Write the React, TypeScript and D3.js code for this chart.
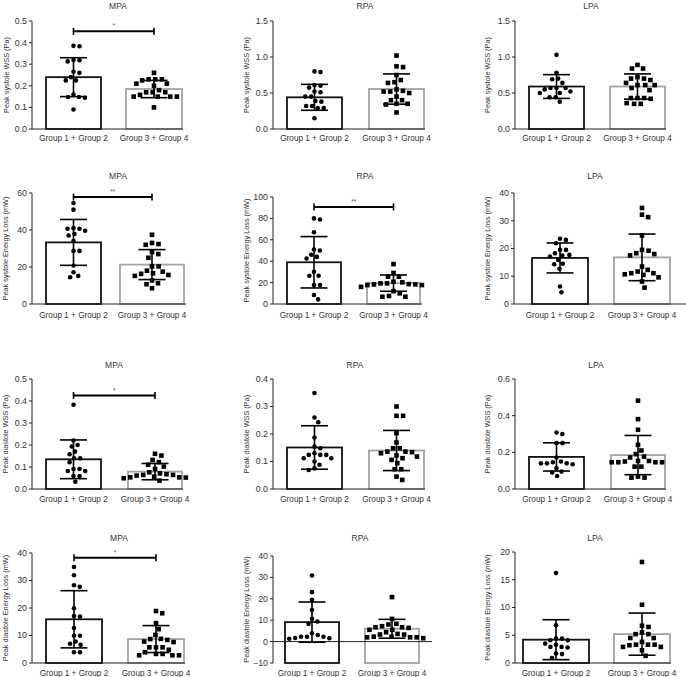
import React from 'react';
import * as d3 from 'd3';

const groupLabels = ['Group 1 + Group 2', 'Group 3 + Group 4'];
const vesselTitles = ['MPA', 'RPA', 'LPA'];
const yLabels = [
  'Peak systole WSS (Pa)',
  'Peak systole Energy Loss (mW)',
  'Peak diastole WSS (Pa)',
  'Peak diastole Energy Loss (mW)',
];

// Row 1: peak systole WSS
const sysWssMpaG1 = [0.385, 0.383, 0.32, 0.318, 0.313, 0.26, 0.265, 0.24, 0.225, 0.225, 0.16, 0.145, 0.148, 0.148, 0.09];
const sysWssMpaG2 = [0.26, 0.23, 0.23, 0.225, 0.23, 0.2, 0.21, 0.21, 0.18, 0.17, 0.17, 0.17, 0.158, 0.15, 0.15, 0.15, 0.15, 0.1];
const sysWssMpaStats = { mean: [0.24, 0.185], sd: [0.09, 0.04] };
const sysWssRpaG1 = [0.79, 0.8, 0.61, 0.575, 0.6, 0.51, 0.52, 0.45, 0.45, 0.38, 0.39, 0.32, 0.29, 0.29, 0.32, 0.15];
const sysWssRpaG2 = [1.02, 0.87, 0.86, 0.75, 0.68, 0.65, 0.64, 0.55, 0.52, 0.52, 0.53, 0.5, 0.45, 0.4, 0.4, 0.35, 0.35, 0.34, 0.23];
const sysWssRpaStats = { mean: [0.44, 0.555], sd: [0.18, 0.21] };
const sysWssLpaG1 = [1.03, 0.78, 0.69, 0.7, 0.64, 0.57, 0.57, 0.55, 0.57, 0.5, 0.52, 0.5, 0.44, 0.44, 0.38];
const sysWssLpaG2 = [0.89, 0.84, 0.84, 0.72, 0.7, 0.7, 0.68, 0.64, 0.61, 0.61, 0.61, 0.57, 0.54, 0.43, 0.43, 0.43, 0.42, 0.36, 0.35, 0.35];
const sysWssLpaStats = { mean: [0.59, 0.59], sd: [0.165, 0.175] };

// Row 2: peak systole energy loss
const sysElMpaG1 = [54.6, 51, 41, 40.7, 40.7, 39.6, 37, 37.8, 34, 28.7, 28.7, 20.8, 17.2, 14.5, 15.2];
const sysElMpaG2 = [37.4, 33, 32, 32.4, 28, 27, 25, 20.3, 20.3, 18, 16.6, 15.7, 15.2, 16.3, 17.5, 12.7, 11.2, 10.7, 8.5];
const sysElMpaStats = { mean: [33.3, 21.3], sd: [12.4, 8.1] };
const sysElRpaG1 = [79, 80, 67, 50, 51, 46, 44, 42.5, 30, 26.4, 26.4, 17.7, 17.7, 8.4, 4.3];
const sysElRpaG2 = [37.3, 29, 25.5, 25.5, 20.8, 19.3, 18.3, 18.3, 17.7, 17.7, 18.6, 19.3, 20.2, 16, 12, 10, 7.5, 6.8, 6.8];
const sysElRpaStats = { mean: [39, 19.5], sd: [24, 7.6] };
const sysElLpaG1 = [23.1, 23.5, 21.9, 19.5, 19.5, 18.3, 17.5, 17.7, 17.1, 15.9, 14.5, 14.3, 12.7, 6.3, 4.2];
const sysElLpaG2 = [34.6, 32.2, 31.3, 24.7, 19.2, 18, 19.5, 18.3, 17.5, 13.5, 11.7, 11.1, 12.3, 10.5, 10.7, 11.1, 9.6, 8.1, 5.9];
const sysElLpaStats = { mean: [16.6, 16.8], sd: [5.4, 8.4] };

// Row 3: peak diastole WSS
const diaWssMpaG1 = [0.383, 0.22, 0.2, 0.193, 0.17, 0.158, 0.14, 0.14, 0.122, 0.091, 0.091, 0.082, 0.082, 0.059, 0.059, 0.033];
const diaWssMpaG2 = [0.16, 0.152, 0.132, 0.122, 0.11, 0.102, 0.091, 0.076, 0.071, 0.064, 0.061, 0.064, 0.067, 0.053, 0.049, 0.052, 0.053, 0.056, 0.038];
const diaWssMpaStats = { mean: [0.135, 0.079], sd: [0.088, 0.037] };
const diaWssRpaG1 = [0.349, 0.26, 0.243, 0.187, 0.154, 0.148, 0.13, 0.124, 0.124, 0.124, 0.112, 0.112, 0.1, 0.088, 0.069, 0.075];
const diaWssRpaG2 = [0.3, 0.266, 0.266, 0.203, 0.169, 0.148, 0.148, 0.13, 0.136, 0.134, 0.136, 0.118, 0.122, 0.112, 0.094, 0.106, 0.072, 0.072, 0.045, 0.033];
const diaWssRpaStats = { mean: [0.151, 0.14], sd: [0.079, 0.073] };
const diaWssLpaG1 = [0.3, 0.308, 0.25, 0.25, 0.172, 0.146, 0.15, 0.14, 0.135, 0.14, 0.14, 0.113, 0.095, 0.09, 0.071];
const diaWssLpaG2 = [0.482, 0.381, 0.323, 0.241, 0.19, 0.21, 0.172, 0.177, 0.153, 0.15, 0.146, 0.146, 0.146, 0.146, 0.153, 0.122, 0.122, 0.068, 0.062, 0.062];
const diaWssLpaStats = { mean: [0.175, 0.185], sd: [0.077, 0.107] };

// Row 4: peak diastole energy loss
const diaElMpaG1 = [34.9, 31.9, 27.7, 28.3, 19.9, 16.9, 17.1, 12.7, 9.9, 9.9, 7.0, 7.8, 6.6, 3.9, 3.9];
const diaElMpaG2 = [18.9, 18.1, 14.5, 12.3, 10.2, 8.4, 7.6, 8.7, 7.8, 8.8, 5.7, 5.7, 5.7, 4.8, 3.9, 3.3, 2.8, 2.8, 2.8, 3.3];
const diaElMpaStats = { mean: [15.9, 8.7], sd: [10.4, 4.9] };
const diaElRpaG1 = [30.9, 23.1, 19.5, 14.8, 10.6, 9.4, 8.3, 3.9, 3.1, 2.3, 1.7, 1.3, 1.6, 2.3, 2.3];
const diaElRpaG2 = [20.8, 10.6, 8.3, 7.2, 6.7, 6.4, 6.7, 8.0, 4.4, 3.3, 5.5, 5.5, 3.3, 3.6, 2.0, 2.3, 2.0, 1.6, 2.0, 2.3];
const diaElRpaStats = { mean: [9.1, 6.0], sd: [9.4, 4.4] };
const diaElLpaG1 = [16.2, 6.8, 4.4, 4.4, 3.5, 3.3, 4.1, 4.1, 2.9, 2.8, 2.9, 1.7, 1.6, 0.9];
const diaElLpaG2 = [18.2, 10.5, 6.5, 6.7, 5.2, 5.2, 4.5, 5.5, 4.5, 3.8, 3.3, 3.2, 2.9, 2.9, 3.3, 3.3, 2.3, 1.3];
const diaElLpaStats = { mean: [4.2, 5.2], sd: [3.6, 3.8] };

type Panel = {
  title: string; ylabel: string; domain: [number, number]; step: number; fmt: string;
  axisX: number; yTop: number; yBot: number; bars: [number, number][]; axisEnd: number;
  titleX: number; titleY: number; labelX: number; tickY: number;
  g1: number[]; g2: number[]; stats: { mean: number[]; sd: number[] };
  sig?: { value: number; text: string };
};

const rowsY = [
  { yTop: 21, yBot: 129, titleY: 8.5, tickY: 141 },
  { yTop: 193, yBot: 304, titleY: 178.5, tickY: 318 },
  { yTop: 379, yBot: 489, titleY: 367.5, tickY: 502 },
  { yTop: 553, yBot: 663, titleY: 540.5, tickY: 676 },
];

const panels: Panel[] = [
  { title: vesselTitles[0], ylabel: yLabels[0], domain: [0, 0.5], step: 0.1, fmt: '.1f', axisX: 32, ...rowsY[0], bars: [[46, 101], [126, 182]], axisEnd: 183, titleX: 118, labelX: 6, g1: sysWssMpaG1, g2: sysWssMpaG2, stats: sysWssMpaStats, sig: { value: 0.452, text: '*' } },
  { title: vesselTitles[1], ylabel: yLabels[0], domain: [0, 1.5], step: 0.5, fmt: '.1f', axisX: 273, ...rowsY[0], bars: [[287, 342], [369, 424]], axisEnd: 425, titleX: 365, labelX: 246, g1: sysWssRpaG1, g2: sysWssRpaG2, stats: sysWssRpaStats },
  { title: vesselTitles[2], ylabel: yLabels[0], domain: [0, 1.5], step: 0.5, fmt: '.1f', axisX: 515, ...rowsY[0], bars: [[529, 584], [610, 665]], axisEnd: 666, titleX: 591, labelX: 487, g1: sysWssLpaG1, g2: sysWssLpaG2, stats: sysWssLpaStats },

  { title: vesselTitles[0], ylabel: yLabels[1], domain: [0, 60], step: 20, fmt: 'd', axisX: 32, ...rowsY[1], bars: [[46, 101], [120, 184]], axisEnd: 186, titleX: 118, labelX: 5, g1: sysElMpaG1, g2: sysElMpaG2, stats: sysElMpaStats, sig: { value: 57.8, text: '**' } },
  { title: vesselTitles[1], ylabel: yLabels[1], domain: [0, 100], step: 20, fmt: 'd', axisX: 273, ...rowsY[1], yTop: 197, bars: [[287, 341], [367, 420]], axisEnd: 422, titleX: 365, labelX: 246, g1: sysElRpaG1, g2: sysElRpaG2, stats: sysElRpaStats, sig: { value: 90.7, text: '**' } },
  { title: vesselTitles[2], ylabel: yLabels[1], domain: [0, 40], step: 10, fmt: 'd', axisX: 514, ...rowsY[1], bars: [[532, 588], [614, 670]], axisEnd: 686, titleX: 595, labelX: 487, g1: sysElLpaG1, g2: sysElLpaG2, stats: sysElLpaStats },

  { title: vesselTitles[0], ylabel: yLabels[2], domain: [0, 0.5], step: 0.1, fmt: '.1f', axisX: 32, ...rowsY[2], bars: [[46, 101], [128, 182]], axisEnd: 183, titleX: 114, labelX: 5, g1: diaWssMpaG1, g2: diaWssMpaG2, stats: diaWssMpaStats, sig: { value: 0.425, text: '*' } },
  { title: vesselTitles[1], ylabel: yLabels[2], domain: [0, 0.4], step: 0.1, fmt: '.1f', axisX: 273, ...rowsY[2], bars: [[287, 342], [369, 424]], axisEnd: 425, titleX: 355, labelX: 246, g1: diaWssRpaG1, g2: diaWssRpaG2, stats: diaWssRpaStats },
  { title: vesselTitles[2], ylabel: yLabels[2], domain: [0, 0.6], step: 0.2, fmt: '.1f', axisX: 515, ...rowsY[2], bars: [[529, 584], [611, 665]], axisEnd: 666, titleX: 596, labelX: 487, g1: diaWssLpaG1, g2: diaWssLpaG2, stats: diaWssLpaStats },

  { title: vesselTitles[0], ylabel: yLabels[3], domain: [0, 40], step: 10, fmt: 'd', axisX: 32, ...rowsY[3], bars: [[46, 102], [128, 184]], axisEnd: 185, titleX: 119, labelX: 5, g1: diaElMpaG1, g2: diaElMpaG2, stats: diaElMpaStats, sig: { value: 38.3, text: '*' } },
  { title: vesselTitles[1], ylabel: yLabels[3], domain: [-10, 40], step: 10, fmt: 'd', axisX: 273, ...rowsY[3], yTop: 556, bars: [[285, 339], [365, 419]], axisEnd: 432, titleX: 360, labelX: 246, g1: diaElRpaG1, g2: diaElRpaG2, stats: diaElRpaStats },
  { title: vesselTitles[2], ylabel: yLabels[3], domain: [0, 20], step: 5, fmt: 'd', axisX: 515, ...rowsY[3], yTop: 552, bars: [[523, 589], [614, 670]], axisEnd: 671, titleX: 595, labelX: 487, g1: diaElLpaG1, g2: diaElLpaG2, stats: diaElLpaStats },
];

function swarm(vals: number[], y: (v: number) => number, d: number): number[] {
  const order = vals.map((_, i) => i).sort((a, b) => vals[b] - vals[a]);
  const placed: { x: number; y: number }[] = [];
  const xs = new Array(vals.length).fill(0);
  for (const i of order) {
    const yi = y(vals[i]);
    const cands = [0];
    for (const p of placed) {
      const dy = Math.abs(p.y - yi);
      if (dy < d) {
        const dx = Math.sqrt(d * d - dy * dy);
        cands.push(p.x + dx + 0.01, p.x - dx - 0.01);
      }
    }
    cands.sort((a, b) => Math.abs(a) - Math.abs(b));
    let chosen = 0;
    for (const c of cands) {
      if (placed.every(p => (p.x - c) ** 2 + (p.y - yi) ** 2 >= d * d - 0.05)) { chosen = c; break; }
    }
    placed.push({ x: chosen, y: yi });
    xs[i] = chosen;
  }
  return xs;
}

const FONT = 'Liberation Sans, Arial, Helvetica, sans-serif';
const TXT = '#333';

function PanelView({ p }: { p: Panel }) {
  const y = d3.scaleLinear().domain(p.domain).range([p.yBot, p.yTop]);
  const ticks = d3.range(p.domain[0], p.domain[1] + p.step / 2, p.step);
  const fmt = d3.format(p.fmt);
  const baseVal = p.domain[0] < 0 ? 0 : p.domain[0];
  const centers = p.bars.map(b => (b[0] + b[1]) / 2);
  const strokes = ['#111', '#a3a3a3'];
  const groups = [p.g1, p.g2];
  const midY = (p.yTop + p.yBot) / 2;
  return (
    <g>
      <text x={p.titleX} y={p.titleY} fontSize={8.5} textAnchor="middle" fill={TXT}>{p.title}</text>
      <text transform={`translate(${p.labelX},${midY}) rotate(-90)`} fontSize={7.3} textAnchor="middle" dominantBaseline="central" fill={TXT}>{p.ylabel}</text>
      {p.bars.map((b, i) => (
        <rect key={'b' + i} x={b[0]} y={y(p.stats.mean[i])} width={b[1] - b[0]} height={y(p.domain[0]) - y(p.stats.mean[i])}
          fill="#fff" stroke={strokes[i]} strokeWidth={1.8} />
      ))}
      <line x1={p.axisX} x2={p.axisX} y1={y(p.domain[0])} y2={y(p.domain[1])} stroke="#222" strokeWidth={1} />
      {ticks.map(t => (
        <g key={'t' + t}>
          <line x1={p.axisX - 3} x2={p.axisX} y1={y(t)} y2={y(t)} stroke="#222" strokeWidth={1} />
          <text x={p.axisX - 5} y={y(t)} dy="0.34em" fontSize={8.8} textAnchor="end" fill={TXT}>{fmt(t)}</text>
        </g>
      ))}
      <line x1={p.axisX} x2={p.axisEnd} y1={y(baseVal)} y2={y(baseVal)} stroke="#222" strokeWidth={1} />
      {groupLabels.map((g, i) => (
        <text key={'g' + i} x={centers[i]} y={p.tickY} fontSize={8.2} textAnchor="middle" fill={TXT}>{g}</text>
      ))}
      {groups.map((vals, gi) => {
        const xs = swarm(vals, y, gi === 0 ? 6 : 6.6);
        return vals.map((v, k) => gi === 0
          ? <circle key={`p${gi}-${k}`} cx={centers[gi] + xs[k]} cy={y(v)} r={2.3} fill="#000" />
          : <rect key={`p${gi}-${k}`} x={centers[gi] + xs[k] - 2.3} y={y(v) - 2.3} width={4.6} height={4.6} fill="#000" />);
      })}
      {centers.map((c, i) => {
        const hi = y(p.stats.mean[i] + p.stats.sd[i]);
        const lo = y(p.stats.mean[i] - p.stats.sd[i]);
        return (
          <g key={'e' + i} stroke="#000" strokeWidth={1.6}>
            <line x1={c} x2={c} y1={hi} y2={lo} />
            <line x1={c - 13.5} x2={c + 13.5} y1={hi} y2={hi} />
            <line x1={c - 13.5} x2={c + 13.5} y1={lo} y2={lo} />
          </g>
        );
      })}
      {p.sig && (
        <g>
          <line x1={centers[0]} x2={centers[1]} y1={y(p.sig.value)} y2={y(p.sig.value)} stroke="#000" strokeWidth={2} />
          <line x1={centers[0]} x2={centers[0]} y1={y(p.sig.value) - 3.5} y2={y(p.sig.value) + 3.5} stroke="#000" strokeWidth={1.6} />
          <line x1={centers[1]} x2={centers[1]} y1={y(p.sig.value) - 3.5} y2={y(p.sig.value) + 3.5} stroke="#000" strokeWidth={1.6} />
          <text x={(centers[0] + centers[1]) / 2} y={y(p.sig.value) - 3} fontSize={6.5} textAnchor="middle" fill="#555">{p.sig.text}</text>
        </g>
      )}
    </g>
  );
}

export default function App() {
  return (
    <svg width={686} height={677} style={{ position: 'absolute', left: 0, top: 0, background: '#fff' }} fontFamily={FONT}>
      <rect x={0} y={0} width={686} height={677} fill="#fff" />
      {panels.map((p, i) => <PanelView key={i} p={p} />)}
    </svg>
  );
}
